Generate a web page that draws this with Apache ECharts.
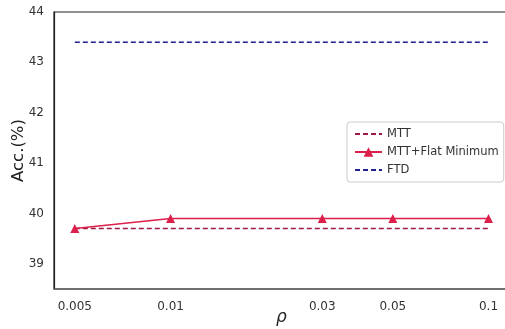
<!DOCTYPE html>
<html><head><meta charset="utf-8">
<script src="https://cdn.jsdelivr.net/npm/echarts@6/dist/echarts.min.js"></script>
<style>html,body{margin:0;padding:0;background:#fff}#c{width:505px;height:329px}</style>
</head><body><div id="c"></div>
<script>
const rho = [0.005, 0.01, 0.03, 0.05, 0.1];
const mtt = [39.7, 39.7, 39.7, 39.7, 39.7];
const mttFlat = [39.7, 39.9, 39.9, 39.9, 39.9];
const ftd = [43.4, 43.4, 43.4, 43.4, 43.4];
const yTicks = [39, 40, 41, 42, 43, 44];

const pairs = a => rho.map((x, i) => [x, a[i]]);
const chart = echarts.init(document.getElementById('c'), null, {renderer: 'canvas'});
const font = 'DejaVu Sans, Liberation Sans, sans-serif';
const hideSym = {color: 'transparent', borderWidth: 0, opacity: 0};
chart.setOption({
  animation: false,
  grid: {left: 54, right: -4, top: 12, bottom: 40, containLabel: false, outerBoundsMode: 'none',
    show: true, borderColor: '#222', borderWidth: 1.2, backgroundColor: 'transparent'},
  xAxis: {
    type: 'log', logBase: 10, min: 0.0043, max: 0.116,
    name: 'ρ', nameLocation: 'middle', nameGap: 20, nameMoveOverlap: false,
    nameTextStyle: {fontFamily: font, fontSize: 17, fontStyle: 'italic', color: '#222'},
    axisLine: {show: true, lineStyle: {color: '#666', width: 1.5}},
    axisTick: {show: false, customValues: rho},
    splitLine: {show: false},
    axisLabel: {customValues: rho, fontFamily: font, fontSize: 12, color: '#333', margin: 12,
      formatter: v => String(+v.toPrecision(3))}
  },
  yAxis: {
    type: 'value', min: 38.5, max: 44, interval: 1,
    name: 'Acc.(%)', nameLocation: 'middle', nameGap: 27, nameRotate: 90, nameMoveOverlap: false,
    nameTextStyle: {fontFamily: font, fontSize: 16.5, color: '#222'},
    axisLine: {show: true, lineStyle: {color: '#222', width: 1.2}},
    axisTick: {show: false},
    splitLine: {show: false},
    axisLabel: {customValues: yTicks, fontFamily: font, fontSize: 12, color: '#333', margin: 10}
  },
  legend: {
    orient: 'vertical', left: 347, top: 122, padding: [6, 5, 6, 7], itemGap: 6,
    itemWidth: 27, itemHeight: 12,
    backgroundColor: '#fff', borderColor: '#ccc', borderWidth: 1, borderRadius: 3,
    textStyle: {fontFamily: font, fontSize: 11.5, color: '#333'},
    data: [
      {name: 'MTT', itemStyle: hideSym},
      {name: 'MTT+Flat Minimum'},
      {name: 'FTD', itemStyle: hideSym}
    ]
  },
  series: [
    {name: 'MTT', type: 'line', data: pairs(mtt), symbol: 'none', z: 2,
      lineStyle: {color: '#9e1a44', width: 1.4, type: [5, 3]}, itemStyle: {color: '#9e1a44'}},
    {name: 'MTT+Flat Minimum', type: 'line', data: pairs(mttFlat), symbol: 'triangle', symbolSize: 9, z: 3,
      lineStyle: {color: '#dc1f4b', width: 1.4}, itemStyle: {color: '#dc1f4b'}},
    {name: 'FTD', type: 'line', data: pairs(ftd), symbol: 'none', z: 2,
      lineStyle: {color: '#22208a', width: 1.4, type: [5, 3]}, itemStyle: {color: '#22208a'}}
  ]
});
</script></body></html>
